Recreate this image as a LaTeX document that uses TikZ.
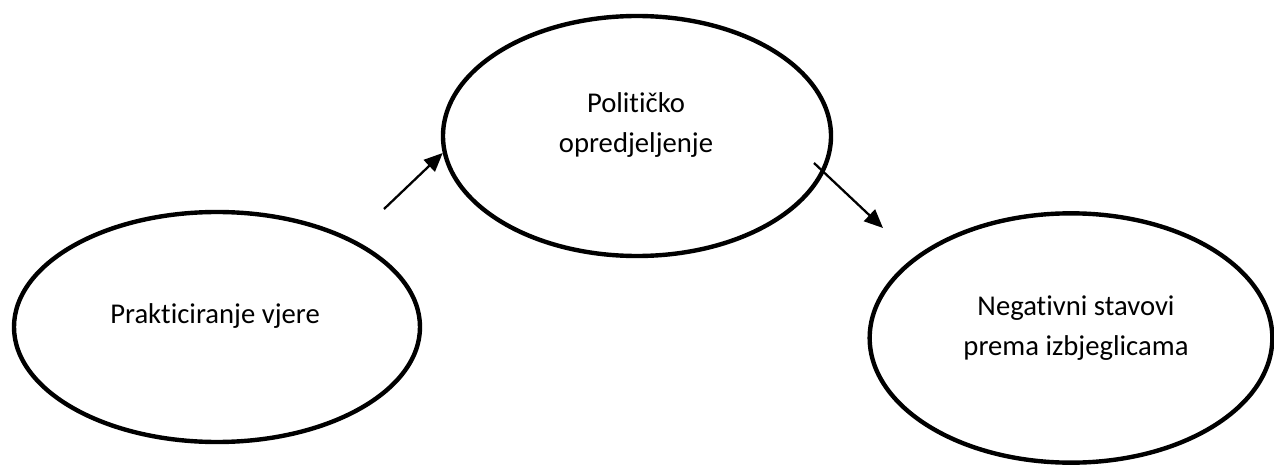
\documentclass[tikz,border=0pt]{standalone}
\usepackage{fontspec}
\setmainfont{Carlito}[Ligatures=NoCommon]
\usetikzlibrary{arrows.meta,shapes.geometric}

\begin{document}
\begin{tikzpicture}[x=0.75pt,y=0.75pt,
    oval/.style={draw,ellipse,line width=3.3pt,inner sep=0pt},
    txt/.style={align=center,font=\fontsize{21.5pt}{30pt}\selectfont},
    veza/.style={line width=1.7pt,-{Triangle[length=14pt,width=12pt]}}]
    \useasboundingbox (0,0) rectangle (1274,465);
    % elipse
    \node[oval,minimum width=304.5pt,minimum height=172.5pt] (vjera) at (217,138) {};
    \node[oval,minimum width=291pt,minimum height=180pt] (politika) at (637,329) {};
    \node[oval,minimum width=302pt,minimum height=187pt] (stavovi) at (1071,127) {};
    % tekst
    \node[txt] (vjera-t) at (215,149) {Prakticiranje vjere};
    \node[txt] (politika-t) at (636,340) {Političko\\opredjeljenje};
    \node[txt] (stavovi-t) at (1076,137) {Negativni stavovi\\prema izbjeglicama};
    % strelice
    \coordinate (p1) at (384,256);
    \coordinate (p2) at (814,302);
    \coordinate (k2) at (883,237);
    \draw[veza] (p1) -- (politika.185);
    \draw[veza] (p2) -- (k2);
\end{tikzpicture}
\end{document}
